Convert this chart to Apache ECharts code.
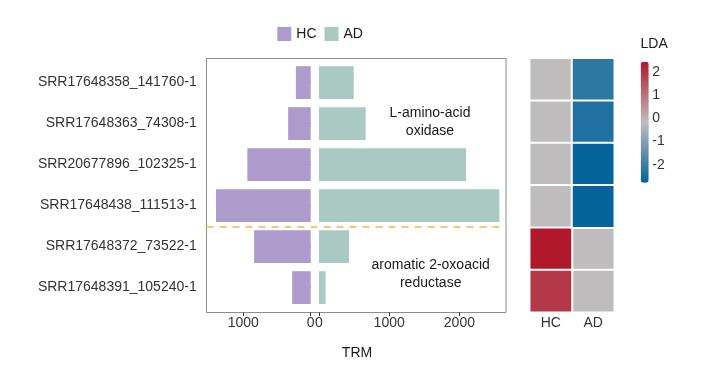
<!DOCTYPE html>
<html><head><meta charset="utf-8">
<script src="https://cdn.jsdelivr.net/npm/echarts@6/dist/echarts.min.js"></script>
<style>html,body{margin:0;padding:0;background:#fff}#c{width:719px;height:370px}</style>
</head><body><div id="c"></div><script>
// ---- data ----
const categories = ['SRR17648358_141760-1','SRR17648363_74308-1','SRR20677896_102325-1','SRR17648438_111513-1','SRR17648372_73522-1','SRR17648391_105240-1'];
const trmHC = [220, 335, 940, 1405, 840, 275];
const trmAD = [495, 665, 2095, 2570, 428, 95];
const ldaHC = [null, null, null, null, 2.46, 1.95];
const ldaAD = [-2.2, -2.37, -2.78, -2.76, null, null];
const groupSizes = [4, 2];
const groupNames = ['L-amino-acid\noxidase', 'aromatic 2-oxoacid\nreductase'];
const trmTicks = [0, 1000, 2000];
const ldaTicks = [-2, -1, 0, 1, 2];
const heatCols = ['HC', 'AD'];
const ldaRange = [-2.78, 2.46];

// ---- build ----
const FONT = 'Liberation Sans, Arial, sans-serif';
const TXT = '#333333';
const leftMax = 1543, rightMax = 2664;
const heatNA = [], heatVal = [];
[ldaHC, ldaAD].forEach((arr, ci) => arr.forEach((v, ri) => {
  if (v === null) heatNA.push([ci, ri, 0]); else heatVal.push([ci, ri, v]);
}));
const nRows = categories.length;
const plain = v => String(v);

const chart = echarts.init(document.getElementById('c'), null, {renderer: 'canvas'});
chart.setOption({
  animation: false,
  textStyle: {fontFamily: FONT},
  legend: {
    data: ['HC', 'AD'], left: 277.3, top: 27, padding: 0,
    itemWidth: 14, itemHeight: 14, itemGap: 8, icon: 'rect',
    textStyle: {fontSize: 14, color: '#1a1a1a', fontFamily: FONT}
  },
  grid: [
    {left: 206.7, top: 62.1, width: 104, height: 246},
    {left: 319, top: 62.1, width: 187, height: 246},
    {left: 206.5, top: 58.5, width: 299.5, height: 254, show: true, borderColor: '#8c8c8c', borderWidth: 1, backgroundColor: 'transparent'},
    {left: 529.7, top: 58.3, width: 84.6, height: 254},
    {left: 648.3, top: 61.7, width: 1, height: 121}
  ],
  xAxis: [
    {type: 'value', gridIndex: 0, inverse: true, min: 0, max: leftMax, offset: 4.4,
     axisLine: {show: false}, splitLine: {show: false},
     axisTick: {show: true, length: 3.5, lineStyle: {color: TXT}, customValues: trmTicks.filter(v => v <= leftMax)},
     axisLabel: {fontSize: 14, color: TXT, margin: 4, formatter: plain, customValues: trmTicks.filter(v => v <= leftMax)}},
    {type: 'value', gridIndex: 1, min: 0, max: rightMax, offset: 4.4,
     axisLine: {show: false}, splitLine: {show: false},
     axisTick: {show: true, length: 3.5, lineStyle: {color: TXT}, customValues: trmTicks.filter(v => v <= rightMax)},
     axisLabel: {fontSize: 14, color: TXT, margin: 4, formatter: plain, customValues: trmTicks.filter(v => v <= rightMax)}},
    {type: 'value', gridIndex: 2, min: 0, max: 1, show: false},
    {type: 'category', gridIndex: 3, data: heatCols, axisLine: {show: false}, axisTick: {show: false},
     axisLabel: {fontSize: 14, color: TXT, margin: 4}},
    {type: 'value', gridIndex: 4, show: false}
  ],
  yAxis: [
    {type: 'category', gridIndex: 0, data: categories, inverse: true,
     axisLine: {show: false},
     axisTick: {show: true, alignWithLabel: true, length: 3.5, lineStyle: {color: TXT}},
     axisLabel: {fontSize: 14, color: TXT, margin: 10}},
    {type: 'category', gridIndex: 1, data: categories, inverse: true, show: false},
    {type: 'value', gridIndex: 2, min: -0.1, max: nRows + 0.1, show: false},
    {type: 'category', gridIndex: 3, data: categories, inverse: true, show: false},
    {type: 'value', gridIndex: 4, min: ldaRange[0], max: ldaRange[1],
     axisLine: {show: false}, axisTick: {show: false}, splitLine: {show: false},
     axisLabel: {inside: true, margin: 4, fontSize: 14, color: TXT, formatter: plain, customValues: ldaTicks}}
  ],
  visualMap: {
    type: 'continuous', seriesIndex: 4, min: ldaRange[0], max: ldaRange[1],
    inRange: {color: ['#04639B', '#BEBCBD', '#B2182B']},
    orient: 'vertical', left: 640.7, top: 61.7, itemWidth: 8, itemHeight: 121,
    padding: 0, calculable: false, text: null, hoverLink: false
  },
  series: [
    {name: 'HC', type: 'bar', xAxisIndex: 0, yAxisIndex: 0, data: trmHC, barWidth: '80%',
     itemStyle: {color: '#AD9BCB'}},
    {name: 'AD', type: 'bar', xAxisIndex: 1, yAxisIndex: 1, data: trmAD, barWidth: '80%',
     itemStyle: {color: '#A9C9C2'}},
    {name: 'sep', type: 'line', xAxisIndex: 2, yAxisIndex: 2, data: [],
     markLine: {silent: true, symbol: ['none', 'none'], label: {show: false},
       lineStyle: {color: '#FDC374', width: 2, type: [7, 6]},
       data: [{yAxis: groupSizes[1]}]}},
    {name: 'LDA-NA', type: 'heatmap', xAxisIndex: 3, yAxisIndex: 3, data: heatNA,
     itemStyle: {color: '#BEBCBD', borderColor: '#ffffff', borderWidth: 2}},
    {name: 'LDA', type: 'heatmap', xAxisIndex: 3, yAxisIndex: 3, data: heatVal,
     itemStyle: {borderColor: '#ffffff', borderWidth: 2}}
  ],
  graphic: [
    {type: 'text', x: 430, y: 122.2, style: {text: groupNames[0], font: '14px ' + FONT, fill: '#1a1a1a', align: 'center', verticalAlign: 'middle', lineHeight: 17.7}},
    {type: 'text', x: 430.7, y: 274.2, style: {text: groupNames[1], font: '14px ' + FONT, fill: '#1a1a1a', align: 'center', verticalAlign: 'middle', lineHeight: 17.7}},
    {type: 'text', x: 357, y: 353, style: {text: 'TRM', font: '14px ' + FONT, fill: '#1a1a1a', align: 'center', verticalAlign: 'middle'}},
    {type: 'text', x: 640.5, y: 44, style: {text: 'LDA', font: '14px ' + FONT, fill: '#1a1a1a', align: 'left', verticalAlign: 'middle'}}
  ]
});
</script></body></html>
